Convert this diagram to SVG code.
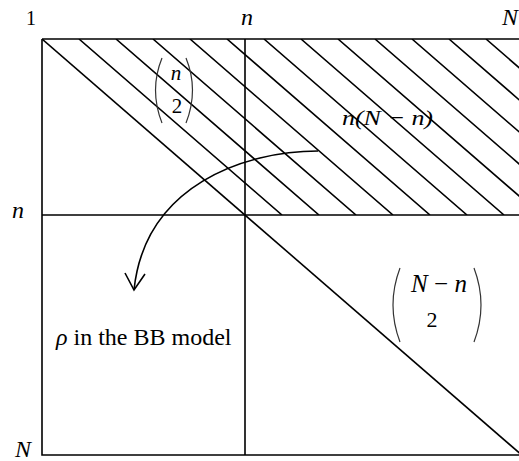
<svg xmlns="http://www.w3.org/2000/svg" width="519" height="461" viewBox="0 0 519 461">
<style>
.ln{stroke:#000;stroke-width:1.6;fill:none;stroke-linecap:butt}
.par{stroke:#333;stroke-width:1.2;fill:none}
text{font-family:'Liberation Serif','Times New Roman',serif;fill:#000}
.i{font-style:italic}
</style>
<defs>
<clipPath id="hatchClip"><rect x="42" y="39" width="477" height="176"/></clipPath>
<clipPath id="boxClip"><rect x="42" y="39" width="477" height="416"/></clipPath>
</defs>
<rect width="519" height="461" fill="#fff"/>
<g id="frame">
<path class="ln" d="M42,39 H520 M42,39 V455 H520 M42,215 H520 M245,39 V455"/>
</g>
<g id="diagonal" clip-path="url(#boxClip)">
<line class="ln" x1="42" y1="39" x2="524" y2="457"/>
</g>
<g id="hatch" clip-path="url(#hatchClip)">
<path class="ln" d="M79,39 l203,176 M116,39 l203,176 M153,39 l203,176 M190,39 l203,176 M227,39 l203,176 M264,39 l203,176 M301,39 l203,176 M338,39 l203,176 M375,39 l203,176 M412,39 l203,176 M449,39 l203,176 M486,39 l203,176"/>
</g>
<g id="axis-labels">
<text x="31" y="25" font-size="20" text-anchor="middle">1</text>
<text class="i" x="247" y="25" font-size="24" text-anchor="middle">n</text>
<text class="i" x="502" y="25" font-size="24">N</text>
<text class="i" x="18" y="218" font-size="24" text-anchor="middle">n</text>
<text class="i" x="23" y="457" font-size="24" text-anchor="middle">N</text>
</g>
<g id="binom-n2">
<path class="par" d="M162,58 Q149,90 162,123"/>
<path class="par" d="M186,58 Q199,90 186,123"/>
<text class="i" x="176" y="80" font-size="21" text-anchor="middle">n</text>
<text x="177" y="113" font-size="21" text-anchor="middle">2</text>
</g>
<g id="cross-label">
<text class="i" x="342" y="125" font-size="22" textLength="91" lengthAdjust="spacingAndGlyphs">n(N − n)</text>
</g>
<g id="binom-Nn2">
<path class="par" d="M400,268 Q386,305 400,342"/>
<path class="par" d="M474,268 Q488,305 474,342"/>
<text x="439" y="292" font-size="25" text-anchor="middle"><tspan class="i">N</tspan> − <tspan class="i">n</tspan></text>
<text x="432" y="327" font-size="22" text-anchor="middle">2</text>
</g>
<g id="connectors">
<path class="ln" d="M318,151 C245,151 145,185 134,290"/>
<polyline class="ln" points="125,273 134,290 145,274"/>
</g>
<g id="rho-label">
<text x="56" y="345" font-size="24"><tspan class="i">ρ</tspan> in the BB model</text>
</g>
</svg>
